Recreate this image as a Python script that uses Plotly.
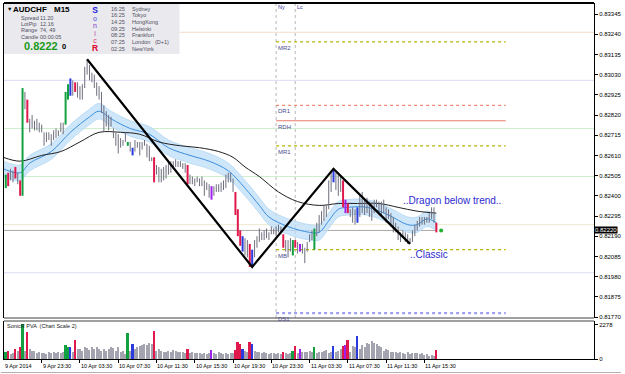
import plotly.graph_objects as go

# ---------------- data ----------------
highs = [
    0.8253, 0.8251, 0.8252, 0.8254, 0.8253, 0.8255, 0.8252, 0.8248, 0.8296, 0.8294,
    0.8290, 0.8280, 0.8282, 0.8279, 0.8280, 0.8278, 0.8277, 0.8273, 0.8273, 0.8273,
    0.8272, 0.8274, 0.8275, 0.8274, 0.8278, 0.8278, 0.8294, 0.8298, 0.8301, 0.8300,
    0.8299, 0.8299, 0.8297, 0.8298, 0.8307, 0.8311, 0.8308, 0.8304, 0.8303, 0.8299,
    0.8297, 0.8294, 0.8287, 0.8284, 0.8282, 0.8281, 0.8275, 0.8273, 0.8272, 0.8270,
    0.8269, 0.8273, 0.8268, 0.8268, 0.8265, 0.8269, 0.8268, 0.8268, 0.8268, 0.8269,
    0.8267, 0.8266, 0.8260, 0.8260, 0.8256, 0.8255, 0.8254, 0.8255, 0.8256, 0.8258,
    0.8258, 0.8258, 0.8259, 0.8258, 0.8258, 0.8257, 0.8257, 0.8256, 0.8251, 0.8250,
    0.8249, 0.8250, 0.8249, 0.8250, 0.8248, 0.8247, 0.8246, 0.8245, 0.8245, 0.8246,
    0.8246, 0.8247, 0.8248, 0.8251, 0.8252, 0.8252, 0.8249, 0.8242, 0.8233, 0.8222,
    0.8219, 0.8218, 0.8217, 0.8215, 0.8212, 0.8217, 0.8219, 0.8223, 0.8221, 0.8222,
    0.8223, 0.8221, 0.8224, 0.8223, 0.8224, 0.8225, 0.8224, 0.8220, 0.8217, 0.8217,
    0.8218, 0.8217, 0.8217, 0.8216, 0.8215, 0.8215, 0.8213, 0.8216, 0.8220, 0.8222,
    0.8223, 0.8226, 0.8230, 0.8232, 0.8235, 0.8235, 0.8248, 0.8253, 0.8254, 0.8252,
    0.8252, 0.8250, 0.8248, 0.8238, 0.8236, 0.8233, 0.8234, 0.8233, 0.8234, 0.8240,
    0.8242, 0.8238, 0.8239, 0.8237, 0.8236, 0.8238, 0.8238, 0.8237, 0.8237, 0.8238,
    0.8234, 0.8233, 0.8231, 0.8229, 0.8226, 0.8224, 0.8221, 0.8222, 0.8221, 0.8220,
    0.8218, 0.8222, 0.8225, 0.8227, 0.8229, 0.8229, 0.8229, 0.8229, 0.8231, 0.8234,
    0.8234, 0.8226,
]
lows = [
    0.8246, 0.8244, 0.8245, 0.8248, 0.8247, 0.8249, 0.8246, 0.8240, 0.8240, 0.8285,
    0.8278, 0.8273, 0.8275, 0.8274, 0.8274, 0.8273, 0.8273, 0.8266, 0.8268, 0.8269,
    0.8266, 0.8269, 0.8270, 0.8271, 0.8273, 0.8272, 0.8277, 0.8290, 0.8292, 0.8292,
    0.8294, 0.8291, 0.8290, 0.8290, 0.8296, 0.8303, 0.8300, 0.8299, 0.8296, 0.8292,
    0.8290, 0.8283, 0.8273, 0.8276, 0.8274, 0.8276, 0.8270, 0.8266, 0.8262, 0.8265,
    0.8266, 0.8268, 0.8266, 0.8263, 0.8261, 0.8263, 0.8265, 0.8261, 0.8264, 0.8266,
    0.8260, 0.8258, 0.8258, 0.8247, 0.8251, 0.8247, 0.8247, 0.8248, 0.8249, 0.8251,
    0.8252, 0.8254, 0.8255, 0.8255, 0.8255, 0.8254, 0.8252, 0.8246, 0.8246, 0.8246,
    0.8245, 0.8247, 0.8245, 0.8245, 0.8240, 0.8243, 0.8239, 0.8238, 0.8240, 0.8242,
    0.8242, 0.8242, 0.8243, 0.8244, 0.8247, 0.8247, 0.8242, 0.8230, 0.8219, 0.8214,
    0.8211, 0.8209, 0.8208, 0.8203, 0.8203, 0.8208, 0.8213, 0.8216, 0.8217, 0.8217,
    0.8218, 0.8217, 0.8220, 0.8220, 0.8219, 0.8221, 0.8220, 0.8213, 0.8211, 0.8208,
    0.8211, 0.8209, 0.8213, 0.8210, 0.8211, 0.8210, 0.8205, 0.8211, 0.8216, 0.8217,
    0.8212, 0.8219, 0.8221, 0.8225, 0.8227, 0.8229, 0.8233, 0.8242, 0.8247, 0.8243,
    0.8240, 0.8242, 0.8234, 0.8231, 0.8231, 0.8229, 0.8226, 0.8225, 0.8226, 0.8229,
    0.8231, 0.8230, 0.8231, 0.8229, 0.8227, 0.8231, 0.8234, 0.8230, 0.8229, 0.8231,
    0.8226, 0.8228, 0.8224, 0.8221, 0.8221, 0.8217, 0.8216, 0.8218, 0.8216, 0.8215,
    0.8215, 0.8216, 0.8219, 0.8222, 0.8224, 0.8225, 0.8225, 0.8226, 0.8226, 0.8228,
    0.8226, 0.8221,
]
volumes = [
    130, 435, 500, 325, 390, 650, 540, 760, 2278, 540,
    1800, 650, 540, 500, 390, 435, 370, 390, 325, 435,
    390, 475, 370, 435, 390, 435, 930, 800, 760, 435,
    1235, 650, 650, 540, 760, 715, 605, 760, 650, 800,
    650, 540, 650, 540, 650, 760, 715, 540, 760, 435,
    540, 325, 1735, 540, 1020, 650, 760, 865, 910, 975,
    930, 1085, 975, 1820, 540, 650, 540, 435, 475, 540,
    435, 605, 540, 435, 435, 475, 390, 650, 390, 435,
    370, 390, 370, 325, 390, 325, 370, 585, 370, 325,
    435, 370, 325, 390, 325, 370, 390, 585, 1125, 975,
    650, 540, 435, 1125, 1020, 540, 435, 475, 390, 435,
    370, 325, 370, 390, 325, 370, 325, 475, 390, 325,
    390, 540, 825, 390, 650, 435, 475, 435, 540, 475,
    800, 390, 475, 435, 540, 605, 390, 475, 825, 475,
    540, 650, 865, 930, 1255, 435, 865, 760, 1515, 650,
    910, 760, 1085, 975, 1190, 1085, 975, 865, 760, 540,
    650, 605, 435, 475, 435, 390, 475, 390, 325, 435,
    325, 370, 370, 370, 325, 370, 260, 325, 215, 260,
    215, 605,
]
green_bars = [1, 8, 26, 27, 52, 121, 130]
red_bars = [2, 5, 7, 10, 30, 63, 77, 97, 98, 99, 103, 117, 122, 142, 144, 181]
blue_bars = [28, 54, 100, 104, 138, 148]
purple_bars = [87, 124, 143]

sma_idx = [0, 7, 16, 24, 32, 40, 49, 57, 65, 74, 82, 90, 96, 101, 107, 115, 123, 132,
           140, 148, 157, 165, 173, 181]
sma_vals = [0.8260, 0.8258, 0.8261, 0.8263, 0.8268, 0.8273, 0.8273, 0.8272, 0.8268,
            0.8266, 0.8265, 0.8263, 0.8260, 0.8255, 0.8250, 0.8242, 0.8237, 0.8235,
            0.8236, 0.8236, 0.8236, 0.8234, 0.8232, 0.8231]

dragon_idx = [0, 7, 11, 20, 28, 36, 40, 45, 53, 61, 69, 78, 86, 94, 101, 107, 111, 119,
              128, 132, 136, 140, 144, 152, 161, 169, 173, 177, 181]
dragon_mid = [0.8254, 0.8252, 0.8257, 0.8263, 0.8273, 0.8281, 0.8284, 0.8280, 0.8275,
              0.8272, 0.8265, 0.8261, 0.8258, 0.8253, 0.8244, 0.8235, 0.8229, 0.8224,
              0.8221, 0.8221, 0.8227, 0.8233, 0.8234, 0.8234, 0.8230, 0.8225, 0.8225,
              0.8228, 0.8226]
dragon_high = [0.8258, 0.8256, 0.8261, 0.8267, 0.8277, 0.8285, 0.8288, 0.8284, 0.8279,
               0.8276, 0.8269, 0.8265, 0.8262, 0.8257, 0.8248, 0.8239, 0.8233, 0.8228,
               0.8225, 0.8225, 0.8231, 0.8237, 0.8238, 0.8238, 0.8234, 0.8229, 0.8229,
               0.8232, 0.8230]
dragon_low = [0.8250, 0.8248, 0.8253, 0.8259, 0.8269, 0.8277, 0.8280, 0.8276, 0.8271,
              0.8268, 0.8261, 0.8257, 0.8254, 0.8249, 0.8240, 0.8231, 0.8225, 0.8220,
              0.8217, 0.8217, 0.8223, 0.8229, 0.8230, 0.8230, 0.8226, 0.8221, 0.8221,
              0.8224, 0.8222]

zigzag_idx = [35, 104, 138, 170]
zigzag_vals = [0.8311, 0.8203, 0.8254, 0.8215]

signal_idx = [183]
signal_vals = [0.8222]

bid_price = 0.82220

pivot_names = ["MR2", "DR1", "RDH", "MR1", "MB", "DS1"]
pivot_vals = [0.8320, 0.8287, 0.8279, 0.8266, 0.8212, 0.8179]
pivot_start, pivot_end = 114, 210
session_idx = [114, 122]
session_names = ["Ny", "Lc"]

round_levels = [0.8325, 0.8300, 0.8275, 0.8250, 0.8225, 0.8200]

y_tick_labels = ["0.81770", "0.81875", "0.81980", "0.82085", "0.82190", "0.82295",
                 "0.82400", "0.82505", "0.82610", "0.82715", "0.82820", "0.82925",
                 "0.83030", "0.83135", "0.83240", "0.83345"]
x_tick_idx = [0, 16, 32, 48, 64, 80, 96, 112, 128, 144, 160, 176]
x_tick_labels = ["9 Apr 2014", "9 Apr 23:30", "10 Apr 03:30", "10 Apr 07:30",
                 "10 Apr 11:30", "10 Apr 15:30", "10 Apr 19:30", "10 Apr 23:30",
                 "11 Apr 03:30", "11 Apr 07:30", "11 Apr 11:30", "11 Apr 15:30"]
vol_max = 2278

info_rows = [("Spread", "11.20"), ("LotPip", "12.16"), ("Range", "74, 49"), ("Candle", "00:00:05")]
sessions = [("16:25", "Sydney"), ("16:25", "Tokyo"), ("14:25", "HongKong"), ("09:25", "Helsinki"),
            ("08:25", "Frankfurt"), ("07:25", "London   (D+1)"), ("02:25", "NewYork")]

# ---------------- layout helpers ----------------
ML, MR, MT, MB_ = 3, 27, 3, 15
W, H = 625, 374
PW, PH = W - ML - MR, H - MT - MB_
X0, X1 = 0.25, 246.9
def px(x):
    return (x - ML) / PW
def py(y):
    return (H - MB_ - y) / PH
def idx_paper(i):
    return (i - X0) / (X1 - X0)

main_dom = [py(318), 1.0]
vol_dom = [0.0, py(321)]

FONT = "Liberation Sans"
GRAY = "#6e6e7e"
COL = {"green": "#12a040", "red": "#e0184c", "blue": "#2a3adc", "purple": "#a020f0"}

fig = go.Figure()

# Dragon band
fig.add_trace(go.Scatter(x=dragon_idx, y=dragon_high, mode="lines",
                         line=dict(color="#bcdcf5", width=1, shape="spline"), hoverinfo="skip"))
fig.add_trace(go.Scatter(x=dragon_idx, y=dragon_low, mode="lines", fill="tonexty",
                         fillcolor="rgba(190,222,247,0.75)",
                         line=dict(color="#bcdcf5", width=1, shape="spline"), hoverinfo="skip"))
fig.add_trace(go.Scatter(x=dragon_idx, y=dragon_mid, mode="lines",
                         line=dict(color="#3d8fe0", width=1, shape="spline"), hoverinfo="skip"))
fig.add_trace(go.Scatter(x=sma_idx, y=sma_vals, mode="lines",
                         line=dict(color="#202020", width=1, shape="spline"), hoverinfo="skip"))

# price bars
colored = {}
for name, lst in (("green", green_bars), ("red", red_bars), ("blue", blue_bars), ("purple", purple_bars)):
    for i in lst:
        colored[i] = name
gx, gy = [], []
cx = {k: [] for k in COL}
cy = {k: [] for k in COL}
for i, (h, l) in enumerate(zip(highs, lows)):
    if i in colored:
        k = colored[i]
        cx[k] += [i, i, None]
        cy[k] += [l, h, None]
    else:
        gx += [i, i, None]
        gy += [l, h, None]
fig.add_trace(go.Scatter(x=gx, y=gy, mode="lines", line=dict(color=GRAY, width=1), hoverinfo="skip"))
for k in COL:
    fig.add_trace(go.Scatter(x=cx[k], y=cy[k], mode="lines", line=dict(color=COL[k], width=2),
                             hoverinfo="skip"))

# zigzag
fig.add_trace(go.Scatter(x=zigzag_idx, y=zigzag_vals, mode="lines",
                         line=dict(color="black", width=2.2), hoverinfo="skip"))
fig.add_trace(go.Scatter(x=signal_idx, y=signal_vals, mode="markers",
                         marker=dict(color="#22b030", size=4), hoverinfo="skip"))

# volume
vcols, vwid = [], []
for i in range(len(volumes)):
    if i in colored:
        vcols.append(COL[colored[i]])
        vwid.append(0.8)
    else:
        vcols.append("#a4a4b0")
        vwid.append(0.45)
fig.add_trace(go.Bar(x=list(range(len(volumes))), y=volumes, yaxis="y2",
                     marker=dict(color=vcols, line=dict(width=0)), width=vwid, hoverinfo="skip"))

shapes = []
round_cols = ["#f3dccb", "#dcdcf6", "#cdeecd", "#cdeecd", "#ece8cf", "#dcdcf6"]
for v, c in zip(round_levels, round_cols):
    shapes.append(dict(type="line", xref="x domain", yref="y", x0=0, x1=1, y0=v, y1=v,
                       line=dict(color=c, width=1), layer="below"))
shapes.append(dict(type="line", xref="x", yref="y", x0=0, x1=len(highs) - 1, y0=bid_price,
                   y1=bid_price, line=dict(color="#a8a8a8", width=1), layer="below"))
piv_style = {"MR2": ("#b4b400", "dot", 1.2), "DR1": ("#f08878", "dot", 1.2),
             "RDH": ("#e87a6c", "solid", 1.2), "MR1": ("#b4b400", "dot", 1.2),
             "MB": ("#b4b400", "dot", 1.2), "DS1": ("#a0a0f0", "dot", 2.2)}
for n, v in zip(pivot_names, pivot_vals):
    c, d, w = piv_style[n]
    shapes.append(dict(type="line", xref="x", yref="y", x0=pivot_start, x1=pivot_end, y0=v, y1=v,
                       line=dict(color=c, width=w, dash=d), layer="below"))
for s in session_idx:
    shapes.append(dict(type="line", xref="x", yref="y domain", x0=s, x1=s, y0=0, y1=1,
                       line=dict(color="#b8b8b8", width=1, dash="dot"), layer="below"))
# panel frames
shapes.append(dict(type="line", xref="paper", yref="paper", x0=0, x1=1, y0=1, y1=1,
                   line=dict(color="black", width=2)))
shapes.append(dict(type="line", xref="paper", yref="paper", x0=0, x1=1, y0=main_dom[0], y1=main_dom[0],
                   line=dict(color="#404040", width=1)))
shapes.append(dict(type="line", xref="paper", yref="paper", x0=0, x1=1, y0=vol_dom[1], y1=vol_dom[1],
                   line=dict(color="#404040", width=1)))
# info box
shapes.append(dict(type="rect", xref="paper", yref="paper", x0=px(3), x1=px(180), y0=py(54), y1=py(4),
                   fillcolor="#e9e9ee", line=dict(width=0), layer="above"))
# outer window frame
shapes.append(dict(type="line", xref="paper", yref="paper", x0=px(0), x1=px(625), y0=py(372.5), y1=py(372.5),
                   line=dict(color="#b0b0b0", width=1)))

ann = []
def txt(x, y, t, size, color="#000", bold=False, xanchor="left", family=FONT, yanchor="middle"):
    ann.append(dict(x=px(x), y=py(y), xref="paper", yref="paper", text=("<b>%s</b>" % t) if bold else t,
                    showarrow=False, xanchor=xanchor, yanchor=yanchor,
                    font=dict(size=size, color=color, family=family)))

txt(4, 9.5, "▼", 5.5)
txt(10, 10, "AUDCHF", 8, bold=True)
txt(51, 10, "M15", 8, bold=True)
for k, (lab, val) in enumerate(info_rows):
    yy = 17.5 + k * 6.4
    txt(18, yy, lab, 5.5, "#505060")
    txt(37, yy, val, 5.5, "#505060")
txt(21, 46, "0.8222", 11, "#1a9a1a", bold=True)
txt(59, 47, "0", 7.5, "#000", bold=True)

# vertical "SonicR" logo as one multi-line text
sonic_letters = [("S", "#2020e0", True), ("o", "#5050d8", False), ("n", "#7a3cc8", False),
                 ("i", "#c0389c", False), ("c", "#e03060", False), ("R", "#e00028", True)]
parts = []
for ch, c, b in sonic_letters:
    if b:
        parts.append("<b><span style='color:%s;font-size:8.5px'>%s</span></b>" % (c, ch))
    else:
        parts.append("<span style='color:%s;font-size:7px'>%s</span>" % (c, ch))
ann.append(dict(x=px(94.5), y=py(4), xref="paper", yref="paper", text="<br>".join(parts),
                showarrow=False, xanchor="center", yanchor="top", align="center", borderpad=0,
                font=dict(size=5.8, family=FONT)))

for k, (tm, nm) in enumerate(sessions):
    yy = 8.5 + k * 6.7
    txt(109, yy, tm, 5.5, "#505060")
    txt(130, yy, nm, 5.5, "#505060")

txt(4, 326, "SonicR PVA  (Chart Scale 2)", 5.5, "#202020")

for s, nm in zip(session_idx, session_names):
    ann.append(dict(x=s, y=py(7), xref="x", yref="paper", text=nm, showarrow=False,
                    xanchor="left", yanchor="middle", xshift=0,
                    font=dict(size=5.5, color="#3a3aa0", family=FONT)))
for n, v in zip(pivot_names, pivot_vals):
    ann.append(dict(x=pivot_start, y=v, xref="x", yref="y", text=n, showarrow=False,
                    xanchor="left", yanchor="top", xshift=0, yshift=-1,
                    font=dict(size=6, color="#4b4b8f", family=FONT)))

ann.append(dict(x=px(403), y=py(200), xref="paper", yref="paper", text="..Dragon below trend..",
                showarrow=False, xanchor="left", yanchor="middle",
                font=dict(size=10, color="#2b2bd0", family=FONT)))
ann.append(dict(x=px(410), y=py(254), xref="paper", yref="paper", text="..Classic",
                showarrow=False, xanchor="left", yanchor="middle",
                font=dict(size=10, color="#2b2bd0", family=FONT)))

for i, lab in zip(x_tick_idx, x_tick_labels):
    ann.append(dict(x=max(idx_paper(i), 0.0), y=py(366), xref="paper", yref="paper", text=lab,
                    showarrow=False, xanchor="left", yanchor="middle", xshift=-1,
                    font=dict(size=5.5, color="#000", family=FONT)))

ann.append(dict(x=1, y=bid_price, xref="paper", yref="y", text="0.82220", showarrow=False,
                xanchor="left", yanchor="middle", xshift=0, bgcolor="black", borderpad=0,
                font=dict(size=6, color="white", family=FONT)))

fig.update_layout(
    width=W, height=H, margin=dict(l=ML, r=MR, t=MT, b=MB_),
    paper_bgcolor="white", plot_bgcolor="white", showlegend=False, bargap=0,
    xaxis=dict(domain=[0, 1], range=[X0, X1], anchor="y2", showgrid=False, zeroline=False,
               tickvals=x_tick_idx, showticklabels=False, ticks="outside", ticklen=3,
               tickcolor="black", showline=True, linecolor="black", linewidth=1),
    yaxis=dict(domain=main_dom, range=[0.817648, 0.834022], side="right", anchor="x",
               tickvals=[float(s) for s in y_tick_labels], ticktext=y_tick_labels,
               ticks="outside", ticklen=3, tickcolor="black", showgrid=False, zeroline=False,
               showline=True, mirror=True, linecolor="black", linewidth=1,
               tickfont=dict(size=6, family=FONT, color="#000")),
    yaxis2=dict(domain=vol_dom, range=[0, vol_max * 1.1], side="right", anchor="x",
                tickvals=[0, vol_max], ticktext=["0", str(vol_max)], ticks="outside", ticklen=3,
                tickcolor="black", showgrid=False, zeroline=False, showline=True, mirror=True,
                linecolor="black", linewidth=1, tickfont=dict(size=6, family=FONT, color="#000")),
    shapes=shapes, annotations=ann,
)

fig.write_html("out.html")
